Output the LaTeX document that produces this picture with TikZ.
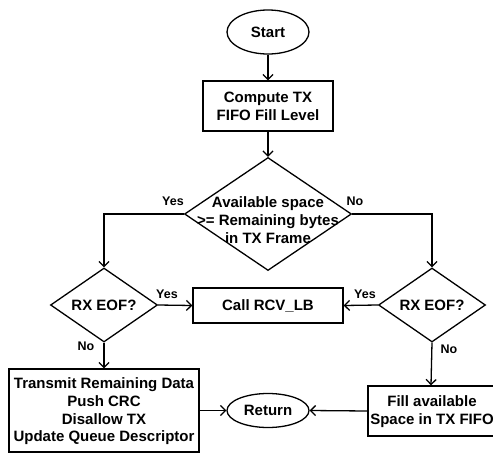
\documentclass[tikz,border=0pt]{standalone}
\usepackage{fontspec}
\setmainfont{Liberation Sans}
\usetikzlibrary{shapes.geometric,arrows.meta}
\tikzset{
  boxnode/.style={draw, rectangle, inner sep=0pt, align=center},
  ovalnode/.style={draw, ellipse, inner sep=0pt},
  decnode/.style={draw, diamond, inner sep=0pt},
  txt/.style={inner sep=0pt, align=center},
  lbl/.style={inner sep=0pt, font=\bfseries\fontsize{12.5}{14}\selectfont},
  flow/.style={->}
}
\begin{document}
\begin{tikzpicture}[x=1pt,y=-1pt,
  font=\bfseries\fontsize{15}{17.8}\selectfont,
  line width=1.3pt,
  >={Straight Barb[length=5pt,width=10pt]}]
\useasboundingbox (0,0) rectangle (493,453);

\node[ovalnode, minimum width=82pt, minimum height=44pt] (start) at (268,32) {Start};
\node[boxnode, minimum width=130pt, minimum height=50pt] (compute) at (268,106) {Compute TX\\FIFO Fill Level};
\node[decnode, minimum width=167pt, minimum height=113pt] (d1) at (268,214) {};
\node[txt, font=\bfseries\fontsize{15}{18}\selectfont] (d1t) at (268,220) {Available space\\>= Remaining bytes\\in TX Frame};
\node[decnode, minimum width=107pt, minimum height=74pt] (ld) at (104,305) {};
\node[txt] (ldt) at (104,305) {RX EOF?};
\node[decnode, minimum width=107pt, minimum height=74pt] (rd) at (432,305) {};
\node[txt] (rdt) at (432,305) {RX EOF?};
\node[boxnode, minimum width=150pt, minimum height=35pt] (call) at (268,305.5) {Call RCV\_LB};
\node[boxnode, minimum width=190pt, minimum height=83pt] (tx) at (104,410.5) {};
\node[txt, font=\bfseries\fontsize{15}{17.7}\selectfont] (txt1) at (104,411.5) {Transmit Remaining Data\\Push CRC\\Disallow TX\\Update Queue Descriptor};
\node[ovalnode, minimum width=82pt, minimum height=34pt] (ret) at (268,410.5) {Return};
\node[boxnode, minimum width=126pt, minimum height=50pt] (fill) at (431,411) {};
\node[txt] (fillt) at (432,411.5) {Fill available\\Space in TX FIFO};

\draw[flow] (start) -- (compute);
\draw[flow] (compute) -- (d1.north);
\draw[flow] (d1.west) -| (ld.north);
\draw[flow] (d1.east) -| (rd.north);
\draw[flow] (ld.east) -- (call.west);
\draw[flow] (rd.west) -- (call.east);
\draw[flow] (ld.south) -- (tx.north);
\draw[flow] (rd.south) -- (fill.north);
\draw[flow] (tx.east) -- (ret.west);
\draw[flow] (fill.west) -- (ret.east);

\node[lbl] (y1) at (173,201) {Yes};
\node[lbl] (n1) at (355,201) {No};
\node[lbl] (y2) at (167,294) {Yes};
\node[lbl] (y3) at (365,294) {Yes};
\node[lbl] (n2) at (86,346) {No};
\node[lbl] (n3) at (449,349) {No};
\end{tikzpicture}
\end{document}
